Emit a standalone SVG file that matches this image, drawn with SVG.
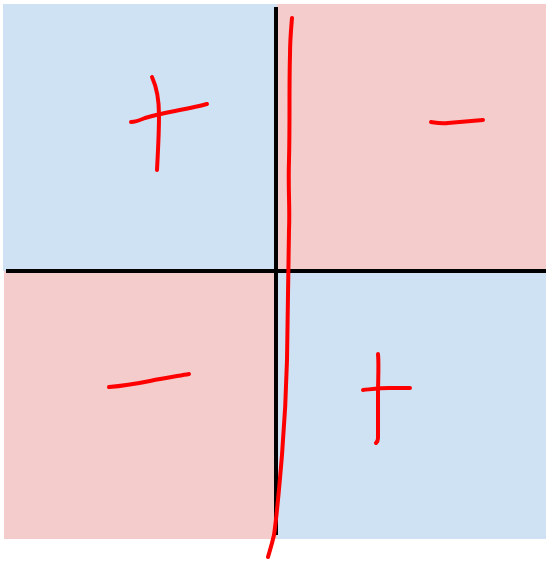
<svg xmlns="http://www.w3.org/2000/svg" width="546" height="562" viewBox="0 0 546 562">
<style>
.blue{fill:#cfe2f3}
.pink{fill:#f4cccc}
.axis{stroke:#000;stroke-width:4;fill:none}
.ink{stroke:#ff0000;stroke-width:4;fill:none;stroke-linecap:round;stroke-linejoin:round}
</style>
<rect width="546" height="562" fill="#fff"/>
<g id="quadrants">
<rect class="blue" x="3" y="4" width="274" height="267"/>
<rect class="pink" x="277" y="4" width="269" height="267"/>
<rect class="pink" x="4" y="271" width="273" height="268"/>
<rect class="blue" x="277" y="271" width="269" height="268"/>
</g>
<g id="axes">
<line class="axis" x1="6" y1="271" x2="546" y2="271"/>
<line class="axis" x1="276" y1="7" x2="276" y2="535"/>
</g>
<g id="strokes">
<path class="ink" d="M292 18 C291 30 290 40 290 55 C289 90 290 120 289 160 C288 190 290 205 289 230 C288 270 288 320 287 360 C286 400 284 430 282 455 C279 490 277 515 274 535 C271 548 269 553 268 557"/>
<path class="ink" d="M152 77 C157 88 159 100 159 115 C159 135 158 150 157 170"/>
<path class="ink" d="M131 122 C136 122 138 121 145 118 C152 116 160 114 175 111 C190 108 200 106 207 104"/>
<path class="ink" d="M431 122 C437 123 442 124 448 123 C460 122 472 121 483 120"/>
<path class="ink" d="M109 387 C122 386 135 384 150 381 C165 378 178 376 189 374"/>
<path class="ink" d="M378 354 C379 365 378 380 378 395 C378 415 378 430 378 438 C378 441 377 442 376 443"/>
<path class="ink" d="M363 390 C373 389 380 388 389 388 C398 388 405 388 410 388"/>
</g>
</svg>
